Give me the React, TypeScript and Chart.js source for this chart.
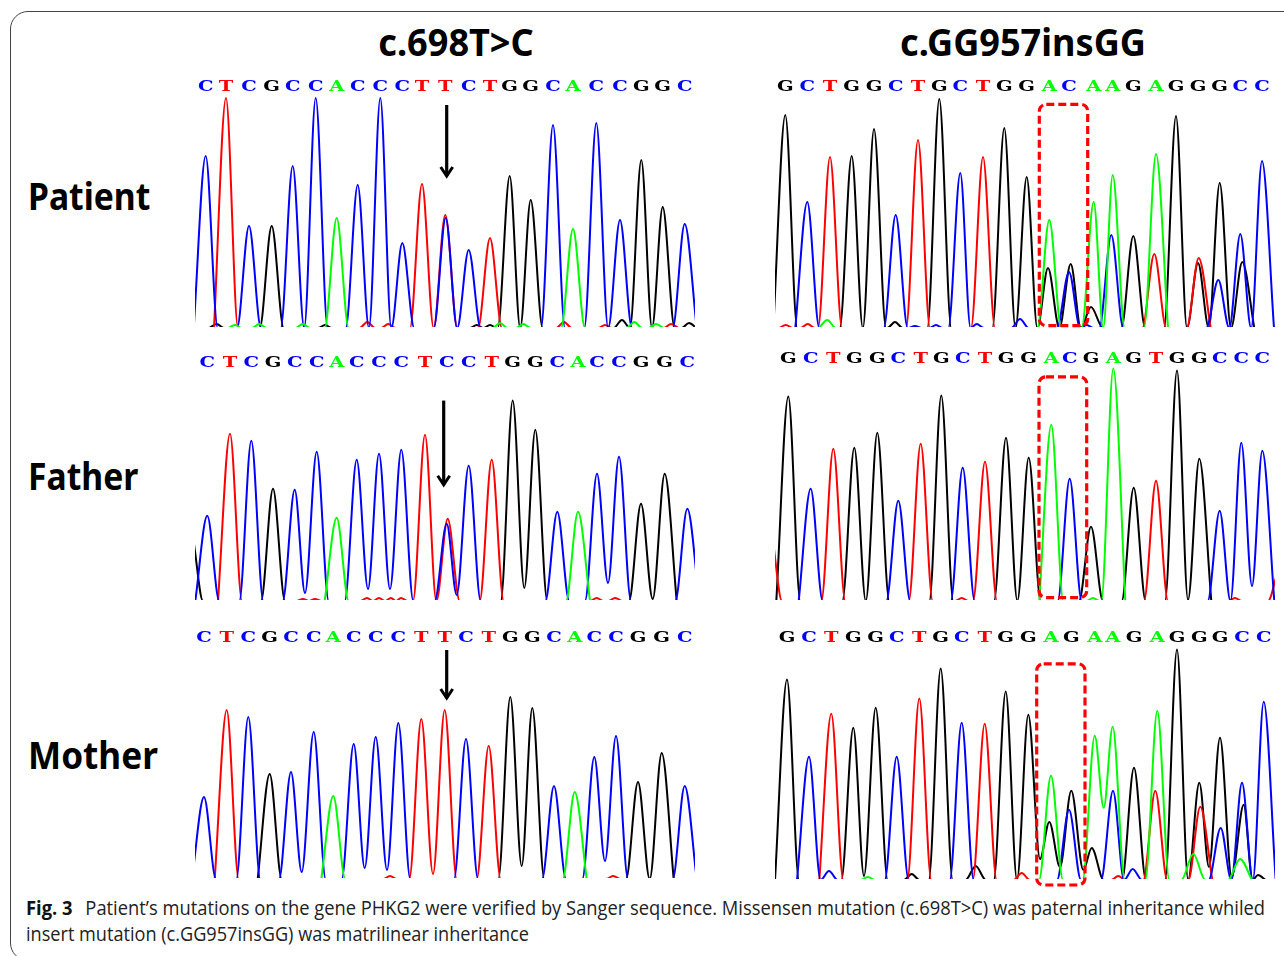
import React, { useEffect, useRef } from "react";
import { Chart, registerables } from "chart.js";

Chart.register(...registerables);

type Pair = [number, number];
type Minor = [string, number, number];

const channelColors: Record<string, string> = { A: "#00ff00", C: "#0000ff", T: "#ff0000", G: "#000000" };
const channelOrder = ["A", "C", "T", "G"];

const titles = ["c.698T>C", "c.GG957insGG"];
const rowNames = ["Patient", "Father", "Mother"];
const captionBold = "Fig. 3";
const captionLine1 = "Patient\u2019s mutations on the gene PHKG2 were verified by Sanger sequence. Missensen mutation (c.698T>C) was paternal inheritance whiled";
const captionLine2 = "insert mutation (c.GG957insGG) was matrilinear inheritance";

// ---- Patient, c.698T>C ----
const patientLeftCalls = "CTCGCCACCCTTCTGGCACCGGC";
const patientLeftScans = [10.7, 31, 54, 76.7, 97.7, 120.7, 141.7, 162.7, 185.3, 207.3, 227, 250.3, 273.7, 295, 314.7, 335.7, 358, 378, 401.3, 425, 446.3, 467.7, 489.7];
const patientLeftSignals = [172, 230, 102, 102, 162, 230, 110, 143, 230, 85, 144, 113, 78, 90, 152, 128, 203, 99, 205, 108, 168, 121, 104];
const patientLeftMinor: Minor[] = [["C", 250.7, 110], ["G", 21.7, 4], ["A", 40, 3], ["A", 64.3, 4], ["A", 107.7, 4], ["G", 130, 3], ["T", 172.3, 6], ["T", 193.3, 4], ["G", 281.7, 3], ["G", 295, 3], ["A", 305, 5], ["A", 328.3, 4], ["T", 369, 6], ["T", 410, 3], ["G", 427, 8], ["A", 439.3, 6], ["A", 461, 4], ["T", 476, 4], ["G", 494, 5]];
const patientLeftValleys: Minor[] = [];

// ---- Patient, c.GG957insGG ----
const patientRightCalls = "GCTGGCTGCTGGACAAGAGGGCC";
const patientRightScans = [10.3, 32.3, 55, 76.7, 99, 120.7, 143, 164.3, 185.3, 208, 229.3, 251.7, 274.3, 294, 318.7, 337.7, 358.3, 381, 401, 423, 444.7, 465.3, 487];
const patientRightSignals = [213, 126, 171, 172, 199, 113, 188, 229, 155, 171, 200, 151, 108, 56, 126, 153, 92, 174, 212, 65, 145, 94, 167];
const patientRightMinor: Minor[] = [["G", 273, 60], ["G", 295.7, 64], ["G", 316, 21], ["C", 336.3, 93], ["T", 379.3, 74], ["T", 423.7, 70], ["C", 443.3, 48], ["G", 467.3, 66], ["T", 11, 3], ["T", 32.7, 4], ["A", 52.3, 8], ["G", 120, 6], ["C", 140, 2], ["C", 161, 3], ["C", 201.7, 4], ["C", 245, 9], ["C", 311.7, 3]];
const patientRightValleys: Minor[] = [];

// ---- Father, c.698T>C ----
const fatherLeftCalls = "CTCGCCACCCTCCTGGCACCGGC";
const fatherLeftScans = [12.3, 35, 56.3, 78, 99.7, 121.7, 141.7, 161.7, 184, 206.3, 230, 251.7, 273.7, 296.7, 317.7, 340.3, 362.3, 383, 402, 424, 446, 469.7, 492.3];
const fatherLeftSignals = [85, 167, 160, 112, 111, 149, 83, 141, 147, 151, 166, 77, 135, 141, 200, 171, 89, 89, 127, 144, 97, 127, 92];
const fatherLeftMinor: Minor[] = [["T", 252.7, 82], ["G", -4, 67], ["T", 108, 2], ["T", 120, 2], ["T", 172, 3], ["T", 184, 3], ["T", 196, 3], ["T", 206, 3], ["T", 401.7, 3], ["T", 420, 3]];
const fatherLeftValleys: Minor[] = [["C", 110, 8], ["C", 173, 12], ["C", 195, 12], ["C", 261.7, 6], ["C", 413, 18], ["G", 329.3, 13], ["G", 457.7, 2]];

// ---- Father, c.GG957insGG ----
const fatherRightCalls = "GCTGGCTGCTGGACGAGTGGCCC";
const fatherRightScans = [13.3, 35.7, 58.3, 79.3, 102.3, 123.3, 145.7, 166.3, 187.7, 210, 231, 253.7, 276.3, 294.7, 316, 338.3, 358.7, 381, 402, 424.3, 444.7, 466.3, 487.3];
const fatherRightSignals = [204, 112, 152, 153, 168, 100, 157, 205, 133, 139, 163, 143, 176, 122, 74, 232, 113, 120, 230, 142, 90, 158, 150];
const fatherRightMinor: Minor[] = [["T", -5, 70], ["T", 505, 32], ["T", 186.7, 3], ["T", 460, 3], ["A", 318, 3]];
const fatherRightValleys: Minor[] = [["G", 413, 1], ["C", 477, 15]];

// ---- Mother, c.698T>C ----
const motherLeftCalls = "CTCGCCACCCTTCTGGCACCGGC";
const motherLeftScans = [9, 31.7, 53.3, 74.7, 96, 118.7, 138.3, 158.7, 180.7, 203.3, 226.3, 249.7, 271, 293.7, 315.3, 337.3, 359, 379.7, 399.3, 421, 443, 466.7, 489.7];
const motherLeftSignals = [82, 169, 162, 105, 107, 147, 83, 135, 142, 156, 160, 169, 140, 133, 182, 171, 93, 87, 122, 143, 97, 126, 93];
const motherLeftMinor: Minor[] = [["T", 195, 3], ["T", 418, 3]];
const motherLeftValleys: Minor[] = [["C", 106.7, 7], ["C", 169.7, 11], ["C", 192, 9], ["T", 238, 5], ["G", 326.7, 13], ["C", 410, 18], ["G", 454.7, 0]];

// ---- Mother, c.GG957insGG ----
const motherRightCalls = "GCTGGCTGCTGGAGAAGAGGGCC";
const motherRightScans = [12, 34, 56.3, 78.3, 100.7, 121.7, 144.3, 165.7, 186.7, 209.7, 230.7, 253.3, 276, 296.3, 319.7, 337.7, 359, 382.3, 402, 424.3, 445, 467, 488.7];
const motherRightSignals = [200, 123, 166, 152, 172, 123, 181, 211, 157, 156, 188, 165, 104, 89, 144, 153, 112, 169, 230, 97, 142, 97, 178];
const motherRightMinor: Minor[] = [["G", 274.3, 58], ["C", 294, 70], ["G", 316.7, 32], ["C", 338, 89], ["T", 380.3, 89], ["T", 425.3, 73], ["A", 418.3, 26], ["C", 445.7, 52], ["G", 468.7, 75], ["A", 465, 21], ["C", 54, 9], ["A", 93, 3], ["G", 136.7, 6], ["G", 200.7, 14], ["T", 246.7, 7], ["T", 343.3, 4], ["C", 357.7, 11], ["G", 483, 5]];
const motherRightValleys: Minor[] = [["A", 328.7, 72], ["G", 265, 21], ["G", 285, 13], ["G", 308.3, 10], ["G", 89, 4], ["G", 434, 13], ["G", 456.7, 3]];

// Marks: arrow [scan, from signal, to signal]; box [scan from, scan to, signal top, signal bottom]
const patientArrow = [251.7, 223, 150];
const fatherArrow = [248.7, 200, 114];
const motherArrow = [251.7, 229, 179];
const patientBox = [264.3, 312.7, 223.7, 2.3];
const fatherBox = [264, 311.7, 223.7, 3.3];
const motherBox = [261.7, 310, 215.7, -5];

const panels = [
  { left: 195, baseline: 327, top: 90, calls: patientLeftCalls, scans: patientLeftScans, signals: patientLeftSignals, minor: patientLeftMinor, valleys: patientLeftValleys, arrow: patientArrow },
  { left: 775, baseline: 327, top: 90, calls: patientRightCalls, scans: patientRightScans, signals: patientRightSignals, minor: patientRightMinor, valleys: patientRightValleys, box: patientBox },
  { left: 195, baseline: 599.5, top: 366, calls: fatherLeftCalls, scans: fatherLeftScans, signals: fatherLeftSignals, minor: fatherLeftMinor, valleys: fatherLeftValleys, arrow: fatherArrow },
  { left: 775, baseline: 599.5, top: 362, calls: fatherRightCalls, scans: fatherRightScans, signals: fatherRightSignals, minor: fatherRightMinor, valleys: fatherRightValleys, box: fatherBox },
  { left: 195, baseline: 878, top: 641, calls: motherLeftCalls, scans: motherLeftScans, signals: motherLeftSignals, minor: motherLeftMinor, valleys: motherLeftValleys, arrow: motherArrow },
  { left: 775, baseline: 878.5, top: 641, calls: motherRightCalls, scans: motherRightScans, signals: motherRightSignals, minor: motherRightMinor, valleys: motherRightValleys, box: motherBox },
];

const AXIS_H = 22;
const BOTTOM_PAD = 10;

const footOf = (h: number) => (h >= 20 ? 12 : 6 + h * 0.3);

function channelTrace(peaks: Pair[], valleys: Pair[]) {
  const items = [
    ...peaks.map((p) => ({ x: p[0], y: p[1], peak: true })),
    ...valleys.map((v) => ({ x: v[0], y: v[1], peak: false })),
  ].sort((a, b) => a.x - b.x);
  const out: { x: number; y: number }[] = [];
  items.forEach((it, i) => {
    if (i === 0) out.push({ x: it.x - footOf(it.y), y: 0 });
    out.push({ x: it.x, y: it.y });
    const next = items[i + 1];
    if (!next) {
      out.push({ x: it.x + footOf(it.y), y: 0 });
    } else if (it.peak && next.peak) {
      const a = it.x + footOf(it.y);
      const b = next.x - footOf(next.y);
      if (a < b) {
        out.push({ x: a, y: 0 }, { x: b, y: 0 });
      } else {
        out.push({ x: (it.x * footOf(next.y) + next.x * footOf(it.y)) / (footOf(it.y) + footOf(next.y)), y: 0 });
      }
    }
  });
  return out;
}

function marksPlugin(panel: any, calls: string[]) {
  return {
    id: "marks",
    afterDatasetsDraw(chart: any) {
      const { ctx, scales, chartArea } = chart;
      const x = scales.x;
      const y = scales.y;
      ctx.save();
      // base calls, stretched to the wide look of the sequencer's lettering
      ctx.font = "bold 15px 'DejaVu Serif'";
      ctx.textAlign = "center";
      ctx.textBaseline = "middle";
      calls.forEach((c, i) => {
        ctx.save();
        ctx.translate(x.getPixelForTick(i), chartArea.top - 2.5);
        ctx.scale(1.3, 1);
        ctx.fillStyle = channelColors[c];
        ctx.fillText(c, 0, 0);
        ctx.restore();
      });
      if (panel.arrow) {
        const [s, from, to] = panel.arrow;
        const px = x.getPixelForValue(s);
        const y1 = y.getPixelForValue(from);
        const y2 = y.getPixelForValue(to);
        ctx.strokeStyle = "#000";
        ctx.lineWidth = 3.2;
        ctx.beginPath();
        ctx.moveTo(px, y1);
        ctx.lineTo(px, y2 - 2);
        ctx.stroke();
        ctx.lineWidth = 3;
        ctx.beginPath();
        ctx.moveTo(px - 6, y2 - 11);
        ctx.lineTo(px, y2 - 2);
        ctx.lineTo(px + 6, y2 - 11);
        ctx.stroke();
      }
      if (panel.box) {
        const [a, b, t, bot] = panel.box;
        const x1 = x.getPixelForValue(a);
        const x2 = x.getPixelForValue(b);
        const y1 = y.getPixelForValue(t);
        const y2 = y.getPixelForValue(bot);
        ctx.strokeStyle = "#ff0000";
        ctx.lineWidth = 3.2;
        ctx.setLineDash([8, 4]);
        ctx.beginPath();
        ctx.roundRect(x1, y1, x2 - x1, y2 - y1, 7);
        ctx.stroke();
      }
      ctx.restore();
    },
  };
}

function Trace({ panel }: { panel: any }) {
  const ref = useRef<HTMLCanvasElement | null>(null);
  const height = panel.baseline - panel.top;
  const calls: string[] = panel.calls.split("");

  useEffect(() => {
    const datasets = channelOrder.map((ch) => {
      const peaks: Pair[] = [];
      calls.forEach((c, i) => {
        if (c === ch) peaks.push([panel.scans[i], panel.signals[i]]);
      });
      panel.minor.forEach((m: Minor) => {
        if (m[0] === ch) peaks.push([m[1], m[2]]);
      });
      const valleys: Pair[] = panel.valleys.filter((v: Minor) => v[0] === ch).map((v: Minor) => [v[1], v[2]] as Pair);
      return {
        label: ch,
        data: channelTrace(peaks, valleys),
        borderColor: channelColors[ch],
        borderWidth: 2,
        pointRadius: 0,
        cubicInterpolationMode: "monotone" as const,
        clip: 0,
        fill: false,
      };
    });
    const chart = new Chart(ref.current as HTMLCanvasElement, {
      type: "line",
      data: { datasets },
      options: {
        animation: false,
        responsive: false,
        devicePixelRatio: 1,
        layout: { padding: { top: 0, left: 0, right: 0, bottom: BOTTOM_PAD } },
        plugins: { legend: { display: false }, tooltip: { enabled: false } },
        scales: {
          x: {
            type: "linear",
            position: "top",
            min: 0,
            max: 500,
            border: { display: false },
            grid: { display: false, drawTicks: false },
            afterBuildTicks: (scale: any) => {
              scale.ticks = panel.scans.map((v: number) => ({ value: v }));
            },
            afterFit: (scale: any) => {
              scale.height = AXIS_H;
            },
            ticks: {
              display: false,
              autoSkip: false,
              maxRotation: 0,
              callback: (_v: any, i: number) => calls[i],
            },
          },
          y: { display: false, min: 1, max: height + 1 },
        },
      },
      plugins: [marksPlugin(panel, calls)],
    } as any);
    return () => chart.destroy();
  }, []);

  return (
    <canvas
      ref={ref}
      width={500}
      height={Math.round(height + AXIS_H + BOTTOM_PAD)}
      style={{ position: "absolute", left: panel.left, top: panel.top - AXIS_H, width: 500, height: Math.round(height + AXIS_H + BOTTOM_PAD) }}
    />
  );
}

const headFont = "'Noto Sans', sans-serif";
const captionStyle: React.CSSProperties = { position: "absolute", left: 26, whiteSpace: "nowrap", fontFamily: "'Open Sans', sans-serif", fontSize: 20, lineHeight: "26px", color: "#222", transformOrigin: "left center" };

export default function App() {
  return (
    <div style={{ position: "fixed", left: 0, top: 0, width: 1284, height: 956, overflow: "hidden", background: "#fff" }}>
      <div style={{ position: "absolute", left: 10, top: 11, width: 1400, height: 950, border: "1px solid #444", borderRadius: 18, boxSizing: "border-box" }} />
      {panels.map((p, i) => (
        <Trace key={i} panel={p} />
      ))}
      {titles.map((t, i) => (
        <div key={t} style={{ position: "absolute", left: i === 0 ? 256 : 823, top: 17, width: 400, textAlign: "center", fontFamily: headFont, fontWeight: 700, fontSize: 38, lineHeight: "48px", transform: "scaleX(0.95)", color: "#000" }}>
          {t}
        </div>
      ))}
      {rowNames.map((t, i) => (
        <div key={t} style={{ position: "absolute", left: 28, top: [172, 452, 731][i], fontFamily: headFont, fontWeight: 700, fontSize: 37, lineHeight: "48px", transform: `scaleX(${[0.91, 0.91, 0.95][i]})`, transformOrigin: "left center", color: "#000" }}>
          {t}
        </div>
      ))}
      <div style={{ ...captionStyle, top: 895, transform: "scaleX(0.917)" }}>
        <b style={{ color: "#111" }}>{captionBold}</b>
        <span style={{ marginLeft: 14 }}>{captionLine1}</span>
      </div>
      <div style={{ ...captionStyle, top: 921, transform: "scaleX(0.906)" }}>{captionLine2}</div>
    </div>
  );
}
